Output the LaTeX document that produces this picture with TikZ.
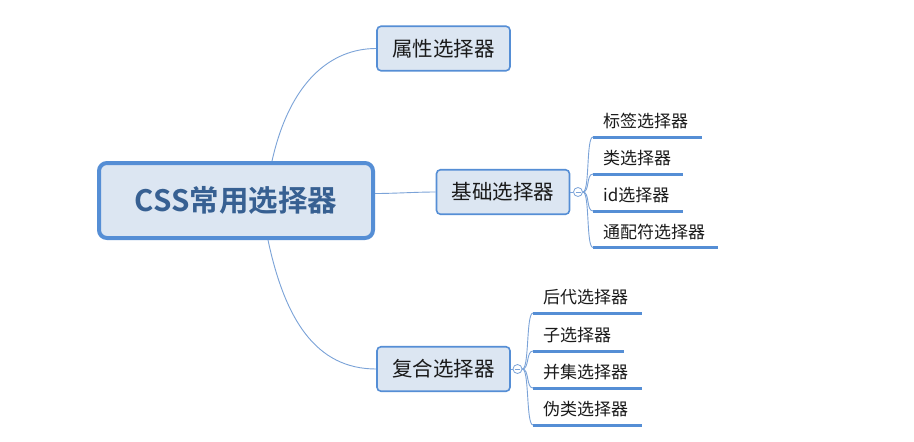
\documentclass[tikz,border=0pt]{standalone}
\usepackage{fontspec}
\newfontfamily\cjk{Noto Sans CJK SC}
\newfontfamily\cjkb{Noto Sans CJK SC Bold}
\definecolor{bord}{HTML}{558ED5}
\definecolor{fillb}{HTML}{DCE6F2}
\definecolor{linkc}{HTML}{7BA3D8}
\definecolor{roottxt}{HTML}{376092}
\definecolor{txt}{HTML}{1A1A1A}
\begin{document}
\begin{tikzpicture}[x=1pt,y=-1pt,
  rootbox/.style={draw=bord, fill=fillb, line width=4pt, rounded corners=8pt,
    minimum width=274pt, minimum height=75pt, inner sep=0pt,
    text=roottxt, font=\cjkb\fontsize{29.5}{32}\selectfont},
  branch/.style={draw=bord, fill=fillb, line width=1.6pt, rounded corners=4pt,
    minimum width=133pt, minimum height=44.5pt, inner sep=0pt,
    text=txt, font=\cjk\fontsize{20.5}{24}\selectfont},
  leaf/.style={anchor=west, inner sep=0pt, text=txt, font=\cjk\fontsize{17}{20}\selectfont},
  under/.style={draw=bord, line width=3pt},
  link/.style={draw=linkc, line width=0.9pt},
  knob/.style={circle, draw=linkc, fill=white, line width=0.8pt, minimum size=9pt, inner sep=0pt}]
\useasboundingbox (0,0) rectangle (914,442);
\fill[white] (0,0) rectangle (914,442);

\node[rootbox] (root) at (236,200.5) {CSS常用选择器};
\node[branch] (attr) at (443.5,48.5) {属性选择器};
\node[branch] (base) at (503,192) {基础选择器};
\node[branch] (comp) at (443.5,369) {复合选择器};

\draw[link] ([xshift=36pt]root.north) .. controls +(18,-80) and +(-45,0) .. (attr.west);
\draw[link] ([yshift=7pt]root.east) .. controls +(20,0) and +(-20,0) .. (base.west);
\draw[link] ([xshift=32pt]root.south) .. controls +(17,80) and +(-60,0) .. (comp.west);

% knobs
\node[knob] (bk) at (578,192) {};
\node[knob] (ck) at (517.5,369) {};
\draw[linkc, line width=0.8pt] ([xshift=-2.5pt]bk.center) -- ([xshift=2.5pt]bk.center);
\draw[linkc, line width=0.8pt] ([xshift=-2.5pt]ck.center) -- ([xshift=2.5pt]ck.center);
\draw[link] (base.east) -- (bk.west);
\draw[link] (comp.east) -- (ck.west);

% base leaves
\coordinate (b1l) at (593,137); \coordinate (b1r) at (702,137);
\coordinate (b2l) at (593,174); \coordinate (b2r) at (683,174);
\coordinate (b3l) at (593,211); \coordinate (b3r) at (683,211);
\coordinate (b4l) at (593,247.5); \coordinate (b4r) at (718,247.5);
\node[leaf] (b1) at (603,121.5) {标签选择器};
\node[leaf] (b2) at (603,158) {类选择器};
\node[leaf] (b3) at (603,195) {id选择器};
\node[leaf] (b4) at (603,232) {通配符选择器};
\foreach \i in {1,2,3,4} {
  \draw[link] (bk.east) .. controls +(7,0) and +(-7,0) .. (b\i l);
  \draw[under] (b\i l) -- (b\i r);
}

% compound leaves
\coordinate (c1l) at (533,313); \coordinate (c1r) at (642,313);
\coordinate (c2l) at (533,351); \coordinate (c2r) at (624,351);
\coordinate (c3l) at (533,388); \coordinate (c3r) at (642,388);
\coordinate (c4l) at (533,425); \coordinate (c4r) at (642,425);
\node[leaf] (c1) at (543,297.5) {后代选择器};
\node[leaf] (c2) at (543,335) {子选择器};
\node[leaf] (c3) at (543,372) {并集选择器};
\node[leaf] (c4) at (543,409) {伪类选择器};
\foreach \i in {1,2,3,4} {
  \draw[link] (ck.east) .. controls +(7,0) and +(-7,0) .. (c\i l);
  \draw[under] (c\i l) -- (c\i r);
}
\end{tikzpicture}
\end{document}
